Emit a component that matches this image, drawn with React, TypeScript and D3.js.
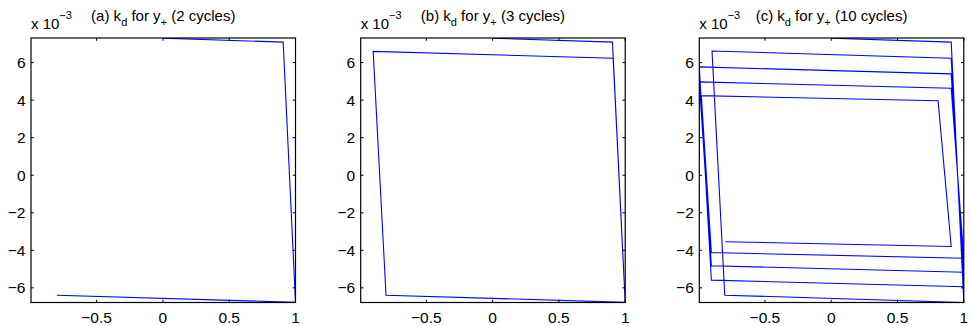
import React from 'react';
import * as d3 from 'd3';

// k_d values are in units of 1e-3
const xTicks = [-0.5, 0, 0.5, 1];
const yTicks = [-6, -4, -2, 0, 2, 4, 6];
const xDomain: [number, number] = [-0.995, 1];
const yDomain: [number, number] = [-6.78, 7.31];

const twoCyclesX = [0, 0.907, 1.0, -0.8];
const twoCyclesY = [7.3, 7.09, -6.77, -6.39];

const threeCyclesX = [0, 0.904, 1.0, -0.804, -0.901, 0.909, 1.0];
const threeCyclesY = [7.3, 7.09, -6.77, -6.39, 6.6, 6.23, -6.77];

const tenCyclesX = [
  0, 0.905, 1.0, -0.803, -0.899, 0.905, 1.0, -0.904, -0.995, 0.905,
  1.0, -0.904, -0.995, 0.905, 1.0, -0.904, -0.98, 0.806, 0.905, -0.798,
];
const tenCyclesY = [
  7.3, 7.09, -6.78, -6.39, 6.62, 6.23, -5.94, -5.59, 5.77, 5.4,
  -5.17, -4.82, 4.97, 4.63, -4.42, -4.12, 4.24, 3.97, -3.8, -3.54,
];

const panels = [
  { label: '(a)', cycles: '2 cycles', xs: twoCyclesX, ys: twoCyclesY, left: 31 },
  { label: '(b)', cycles: '3 cycles', xs: threeCyclesX, ys: threeCyclesY, left: 360.7 },
  { label: '(c)', cycles: '10 cycles', xs: tenCyclesX, ys: tenCyclesY, left: 699.3 },
];

const top = 38;
const size = 264.5;
const tickLen = 2.8;
const font = 'Liberation Sans, Arial, Helvetica, sans-serif';
const fmt = (v: number) => String(v).replace('-', '\u2212');

const Panel: React.FC<{ p: typeof panels[number]; i: number }> = ({ p, i }) => {
  const x = d3.scaleLinear().domain(xDomain).range([0, size]);
  const y = d3.scaleLinear().domain(yDomain).range([size, 0]);
  const pts = p.xs.map((v, k) => [v, p.ys[k]] as [number, number]);
  const line = d3.line<[number, number]>().x(d => x(d[0])).y(d => y(d[1]));
  const clipId = `clip-${i}`;
  return (
    <g transform={`translate(${p.left}, ${top})`} fontFamily={font}>
      <defs>
        <clipPath id={clipId}>
          <rect x={0} y={0} width={size} height={size} />
        </clipPath>
      </defs>
      <path
        d={line(pts) || ''}
        fill="none"
        stroke="#0000ff"
        strokeWidth={1.1}
        clipPath={`url(#${clipId})`}
      />
      <rect x={0} y={0} width={size} height={size} fill="none" stroke="#000" strokeWidth={1.2} />
      {xTicks.map(t => (
        <g key={`x-${t}`}>
          <line x1={x(t)} x2={x(t)} y1={size} y2={size - tickLen} stroke="#000" />
          <line x1={x(t)} x2={x(t)} y1={0} y2={tickLen} stroke="#000" />
          <text x={x(t)} y={size + 20.8} textAnchor="middle" fontSize={15.5} fill="#000">
            {fmt(t)}
          </text>
        </g>
      ))}
      {yTicks.map(t => (
        <g key={`y-${t}`}>
          <line x1={0} x2={tickLen} y1={y(t)} y2={y(t)} stroke="#000" />
          <line x1={size} x2={size - tickLen} y1={y(t)} y2={y(t)} stroke="#000" />
          <text x={-5.5} y={y(t) + 5.6} textAnchor="end" fontSize={15.5} fill="#000">
            {fmt(t)}
          </text>
        </g>
      ))}
      {/* exponent label */}
      <text x={0} y={-9} fontSize={15} fill="#000">
        x 10
        <tspan dy={-10} fontSize={11}>{'\u22123'}</tspan>
      </text>
      {/* title */}
      <text x={size / 2} y={-17} textAnchor="middle" fontSize={15} fill="#000">
        {p.label} k
        <tspan dy={5} fontSize={11}>d</tspan>
        <tspan dy={-5}> for y</tspan>
        <tspan dy={5} fontSize={11}>+</tspan>
        <tspan dy={-5}> ({p.cycles})</tspan>
      </text>
    </g>
  );
};

export default function App() {
  return (
    <svg
      width={972}
      height={326}
      style={{ position: 'absolute', left: 0, top: 0, background: '#fff' }}
    >
      <rect width={972} height={326} fill="#fff" />
      {panels.map((p, i) => (
        <Panel key={p.label} p={p} i={i} />
      ))}
    </svg>
  );
}
